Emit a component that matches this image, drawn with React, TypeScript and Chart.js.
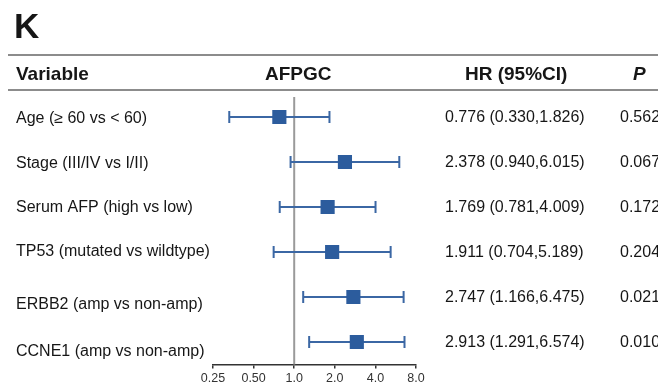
import React, { useEffect, useRef } from "react";
import { Chart, registerables } from "chart.js";

Chart.register(...registerables);

// ---- data ----
const VARIABLES = [
  "Age (≥ 60 vs < 60)",
  "Stage (III/IV vs I/II)",
  "Serum AFP (high vs low)",
  "TP53 (mutated vs wildtype)",
  "ERBB2 (amp vs non-amp)",
  "CCNE1 (amp vs non-amp)",
];
const HR = [0.776, 2.378, 1.769, 1.911, 2.747, 2.913];
const CI_LOW = [0.33, 0.94, 0.781, 0.704, 1.166, 1.291];
const CI_HIGH = [1.826, 6.015, 4.009, 5.189, 6.475, 6.574];
const P_VALUES = ["0.562", "0.067", "0.172", "0.204", "0.021", "0.010"];
const X_TICKS = [0.25, 0.5, 1, 2, 4, 8];
const X_TICK_LABELS = ["0.25", "0.50", "1.0", "2.0", "4.0", "8.0"];
const HEADERS = ["Variable", "AFPGC", "HR (95%CI)", "P"];
const PANEL = "K";

// ---- layout / style (not data) ----
const FONT = "'Liberation Sans', Arial, Helvetica, sans-serif";
const LABEL_DY = [1.5, 1.5, 0.5, 0, 8, 10];
const SQUARE_COLOR = "#2c5c9d";
const LINE_COLOR = "#3b67a4";
const TEXT_COLOR = "#161616";

const fmt = (v: number) => v.toFixed(3);

const tablePlugin = {
  id: "forestTable",
  beforeDatasetsDraw(chart: any) {
    const { ctx, chartArea, scales } = chart;
    const x1 = scales.x.getPixelForValue(1);
    ctx.save();
    ctx.strokeStyle = "#9a9a9a";
    ctx.lineWidth = 2;
    ctx.beginPath();
    ctx.moveTo(x1, chartArea.top + 2.5);
    ctx.lineTo(x1, chartArea.bottom);
    ctx.stroke();
    ctx.restore();
  },
  afterDraw(chart: any) {
    const { ctx, scales } = chart;
    ctx.save();
    ctx.fillStyle = TEXT_COLOR;
    ctx.textAlign = "left";
    ctx.textBaseline = "alphabetic";
    ctx.font = `bold 35px ${FONT}`;
    ctx.fillText(PANEL, 14, 38);

    ctx.strokeStyle = "#8c8c8c";
    ctx.lineWidth = 2;
    for (const y of [55, 90]) {
      ctx.beginPath();
      ctx.moveTo(8, y);
      ctx.lineTo(658, y);
      ctx.stroke();
    }

    ctx.font = `bold 19px ${FONT}`;
    ctx.fillText(HEADERS[0], 16, 80);
    ctx.fillText(HEADERS[1], 265, 80);
    ctx.fillText(HEADERS[2], 465, 80);
    ctx.font = `italic bold 19px ${FONT}`;
    ctx.fillText(HEADERS[3], 633, 80);

    ctx.textBaseline = "middle";
    ctx.font = `16px ${FONT}`;
    VARIABLES.forEach((name, i) => {
      const y = scales.y.getPixelForValue(i);
      ctx.fillText(name, 16, y + LABEL_DY[i]);
      ctx.fillText(`${fmt(HR[i])} (${fmt(CI_LOW[i])},${fmt(CI_HIGH[i])})`, 445, y + 0.5);
      ctx.fillText(P_VALUES[i], 620, y + 0.5);
    });
    ctx.restore();
  },
};

export default function App() {
  const ref = useRef<HTMLCanvasElement | null>(null);

  useEffect(() => {
    if (!ref.current) return;
    Chart.defaults.font.family = FONT;

    const squares: any = {
      type: "scatter",
      data: HR.map((v, i) => ({ x: v, y: i })),
      pointStyle: "rect",
      pointRadius: 10,
      pointHoverRadius: 10,
      backgroundColor: SQUARE_COLOR,
      pointBackgroundColor: SQUARE_COLOR,
      borderWidth: 0,
      pointBorderWidth: 0,
      order: 0,
    };
    const whiskers: any[] = HR.map((_, i) => ({
      type: "scatter",
      data: [
        { x: CI_LOW[i], y: i },
        { x: CI_HIGH[i], y: i },
      ],
      showLine: true,
      borderColor: LINE_COLOR,
      borderWidth: 2,
      pointStyle: "line",
      rotation: 90,
      pointRadius: 6,
      pointHoverRadius: 6,
      pointBorderWidth: 2,
      pointBorderColor: LINE_COLOR,
      pointBackgroundColor: LINE_COLOR,
      order: 1,
    }));

    const chart = new Chart(ref.current, {
      type: "scatter",
      data: { datasets: [squares, ...whiskers] },
      options: {
        animation: false,
        responsive: false,
        devicePixelRatio: 1,
        events: [],
        layout: { padding: { left: 213, right: 242, top: 94.5, bottom: 0 } },
        plugins: { legend: { display: false }, tooltip: { enabled: false } },
        scales: {
          x: {
            type: "logarithmic",
            position: "bottom",
            min: 0.25,
            max: 8,
            afterBuildTicks: (scale: any) => {
              scale.ticks = X_TICKS.map((v) => ({ value: v }));
            },
            afterFit: (scale: any) => {
              scale.height = 25.5;
            },
            border: { display: true, color: "#333", width: 1.5 },
            grid: {
              display: true,
              drawOnChartArea: false,
              drawTicks: true,
              tickLength: 4,
              color: "#333",
              lineWidth: 1.5,
            },
            ticks: {
              autoSkip: false,
              maxRotation: 0,
              padding: 3,
              color: "#333",
              font: { size: 12.5, family: FONT },
              callback: (_v: any, index: number) => X_TICK_LABELS[index],
            },
          },
          y: {
            type: "linear",
            min: -0.5,
            max: 5.5,
            reverse: true,
            display: false,
          },
        },
      } as any,
      plugins: [tablePlugin],
    });
    return () => chart.destroy();
  }, []);

  return (
    <div style={{ position: "absolute", left: 0, top: 0, width: 658, height: 390, background: "#fff" }}>
      <canvas ref={ref} width={658} height={390} style={{ display: "block" }} />
    </div>
  );
}
